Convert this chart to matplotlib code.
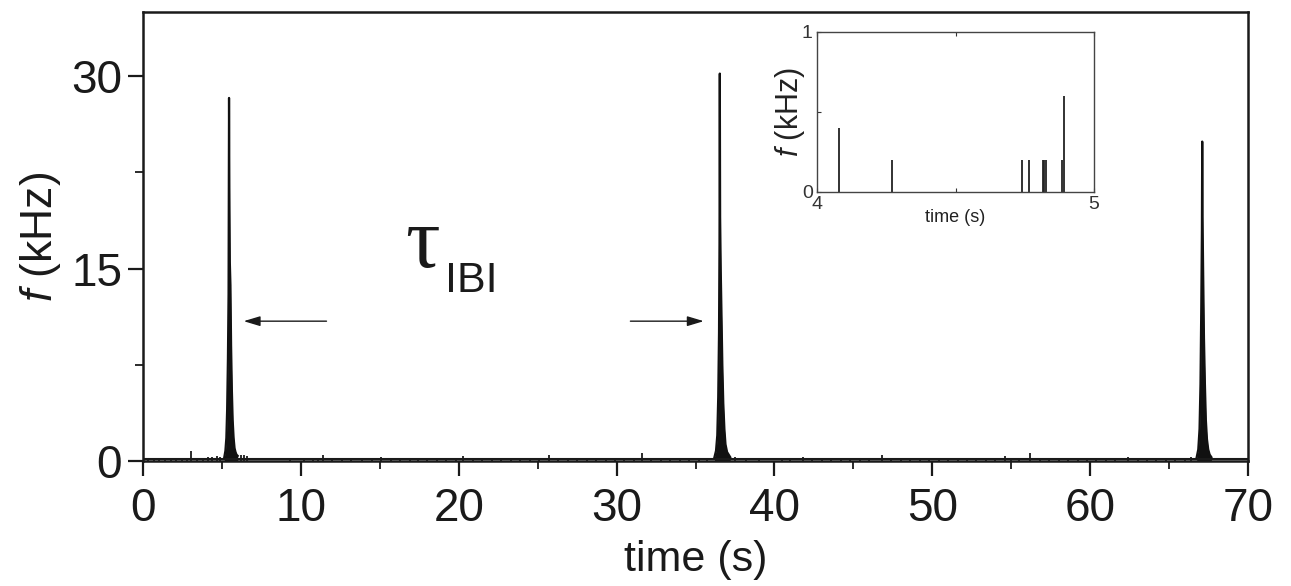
import matplotlib
matplotlib.use("Agg")
import matplotlib.pyplot as plt
import numpy as np

plt.rcParams['font.family'] = ['Liberation Sans', 'DejaVu Sans']
plt.rcParams['mathtext.fontset'] = 'custom'
plt.rcParams['mathtext.rm'] = 'Liberation Sans'
plt.rcParams['mathtext.it'] = 'Liberation Sans:italic'

# ---- data ----
burst1_t = [5.15, 5.22, 5.28, 5.33, 5.38, 5.42, 5.45, 5.47, 5.50, 5.54, 5.58, 5.63, 5.68, 5.74, 5.80, 5.86, 5.92, 6.00]
burst1_f = [0.3, 0.8, 1.8, 4.0, 8.0, 13.0, 28.3, 21.4, 15.5, 13.7, 9.0, 5.5, 3.2, 1.8, 1.0, 0.7, 0.5, 0.4]

burst2_t = [36.20, 36.30, 36.38, 36.44, 36.49, 36.52, 36.54, 36.56, 36.60, 36.65, 36.70, 36.76, 36.83, 36.90, 37.00, 37.10, 37.20]
burst2_f = [0.3, 0.8, 2.0, 5.0, 10.0, 17.0, 30.2, 19.0, 14.8, 11.2, 7.5, 4.5, 2.5, 1.3, 0.7, 0.5, 0.3]

burst3_t = [66.75, 66.85, 66.93, 66.99, 67.04, 67.08, 67.10, 67.12, 67.16, 67.21, 67.27, 67.33, 67.40, 67.48, 67.57, 67.68]
burst3_f = [0.3, 0.9, 2.5, 6.0, 12.0, 18.0, 24.9, 19.0, 14.6, 9.6, 6.0, 3.2, 1.7, 0.9, 0.5, 0.3]

noise_t = [0.3, 0.7, 1.0, 1.4, 1.8, 2.1, 2.5, 2.8, 3.04, 3.4, 3.8, 4.1, 4.4, 4.7, 4.9, 6.2, 6.4, 6.6,
           9.3, 10.2, 10.8, 11.1, 11.4, 12.0, 12.6, 13.2, 13.9, 14.5, 15.1, 15.7, 16.3, 16.9, 17.4,
           18.0, 18.6, 19.2, 19.8, 20.3, 20.9, 21.5, 22.1, 22.7, 23.3, 23.9, 24.5, 25.1, 25.7, 26.3,
           26.9, 27.5, 28.1, 28.7, 29.3, 29.9, 30.5, 31.1, 31.6, 32.2, 32.8, 33.4, 34.0, 34.6, 35.2,
           35.7, 37.5, 38.2, 39.0, 40.5, 41.0, 41.8, 42.4, 43.0, 43.6, 44.2, 44.8, 45.4, 46.0, 46.8,
           47.4, 48.0, 48.6, 49.2, 49.8, 50.4, 51.0, 51.6, 52.2, 52.8, 53.4, 54.0, 54.6, 55.0, 55.5,
           56.2, 56.8, 57.4, 58.0, 58.6, 59.2, 59.8, 60.4, 61.0, 61.6, 62.4, 63.0, 63.6, 64.2, 64.8,
           65.4, 66.0, 66.4]
noise_f = [0.2, 0.15, 0.2, 0.15, 0.2, 0.15, 0.25, 0.2, 0.8, 0.2, 0.25, 0.3, 0.3, 0.4, 0.3, 0.5, 0.45, 0.4,
           0.15, 0.2, 0.25, 0.2, 0.5, 0.2, 0.15, 0.2, 0.25, 0.15, 0.3, 0.2, 0.15, 0.2, 0.15,
           0.2, 0.25, 0.15, 0.2, 0.4, 0.15, 0.2, 0.2, 0.15, 0.2, 0.25, 0.2, 0.15, 0.5, 0.2,
           0.15, 0.2, 0.25, 0.15, 0.2, 0.2, 0.25, 0.2, 0.6, 0.25, 0.2, 0.15, 0.2, 0.25, 0.2,
           0.2, 0.3, 0.2, 0.15, 0.2, 0.15, 0.3, 0.2, 0.15, 0.2, 0.25, 0.2, 0.2, 0.25, 0.5,
           0.2, 0.15, 0.2, 0.25, 0.2, 0.15, 0.2, 0.25, 0.2, 0.15, 0.2, 0.25, 0.4, 0.2, 0.2,
           0.6, 0.25, 0.2, 0.25, 0.2, 0.15, 0.2, 0.25, 0.2, 0.2, 0.3, 0.2, 0.15, 0.2, 0.2,
           0.15, 0.2, 0.3]

inset_t = [4.08, 4.27, 4.74, 4.765, 4.815, 4.82, 4.825, 4.885, 4.89]
inset_f = [0.4, 0.2, 0.2, 0.2, 0.2, 0.2, 0.2, 0.2, 0.6]

xticks_main = [0, 10, 20, 30, 40, 50, 60, 70]
yticks_main = [0, 15, 30]

# ---- figure ----
W, H = 1291, 586
fig = plt.figure(figsize=(W / 100, H / 100), dpi=100)
ax = fig.add_axes([143 / W, 1 - 461 / H, (1248 - 143) / W, (461 - 12) / H])

# baseline noise as thin stems
ax.vlines(noise_t, 0, noise_f, color='#1a1a1a', lw=1.3)
ax.plot([0, 70], [0.12, 0.12], color='#1a1a1a', lw=1.5)
for bt, bf in [(burst1_t, burst1_f), (burst2_t, burst2_f), (burst3_t, burst3_f)]:
    ax.fill_between(bt, 0, bf, color='#111111', lw=0)
    ax.plot(bt, bf, color='#111111', lw=1.6)

ax.set_xlim(0, 70)
ax.set_ylim(0, 35)
ax.set_xticks(xticks_main)
ax.set_xticks([5, 15, 25, 35, 45, 55, 65], minor=True)
ax.set_yticks(yticks_main)
ax.set_yticks([7.5, 22.5], minor=True)
ax.tick_params(axis='both', which='major', direction='out', length=11, width=1.6,
               labelsize=33, colors='#1a1a1a', pad=4)
ax.tick_params(axis='x', which='major', pad=8)
ax.tick_params(axis='both', which='minor', direction='out', length=6, width=1.3, colors='#1a1a1a')
for s in ax.spines.values():
    s.set_linewidth(1.8)
    s.set_color('#1a1a1a')

ax.set_xlabel('time (s)', fontsize=31, color='#1a1a1a', labelpad=6)
ax.set_ylabel('$f$ (kHz)', fontsize=32, color='#1a1a1a', labelpad=6)

# IBI annotation
ax.annotate('', xy=(6.2, 10.9), xytext=(11.8, 10.9),
            arrowprops=dict(arrowstyle='-|>,head_length=1.0,head_width=0.3', color='#1a1a1a', lw=1.0))
ax.annotate('', xy=(35.7, 10.9), xytext=(30.7, 10.9),
            arrowprops=dict(arrowstyle='-|>,head_length=1.0,head_width=0.3', color='#1a1a1a', lw=1.0))
ax.text(16.6, 15.1, 'τ', fontsize=62, family=['Liberation Serif', 'DejaVu Serif'],
        ha='left', va='baseline', color='#1a1a1a')
ax.text(19.1, 13.2, 'IBI', fontsize=31, ha='left', va='baseline', color='#1a1a1a')

# ---- inset ----
axi = fig.add_axes([817 / W, 1 - 192 / H, (1094 - 817) / W, (192 - 32) / H])
axi.vlines(inset_t, 0, inset_f, color='#222222', lw=1.3)
axi.set_xlim(4, 5)
axi.set_ylim(0, 1)
axi.set_xticks([4, 4.5, 5], ['4', '', '5'])
axi.set_yticks([0, 0.5, 1], ['0', '', '1'])
axi.tick_params(axis='both', direction='in', length=3, width=0.8, labelsize=14,
                colors='#333333', pad=3, top=True)
for s in axi.spines.values():
    s.set_linewidth(1.0)
    s.set_color('#444444')
axi.set_xlabel('time (s)', fontsize=13, color='#222222', labelpad=-3)
axi.set_ylabel('$f$ (kHz)', fontsize=22, color='#222222')
axi.yaxis.set_label_coords(-0.035, 0.5)

fig.savefig('out.png', dpi=100)
